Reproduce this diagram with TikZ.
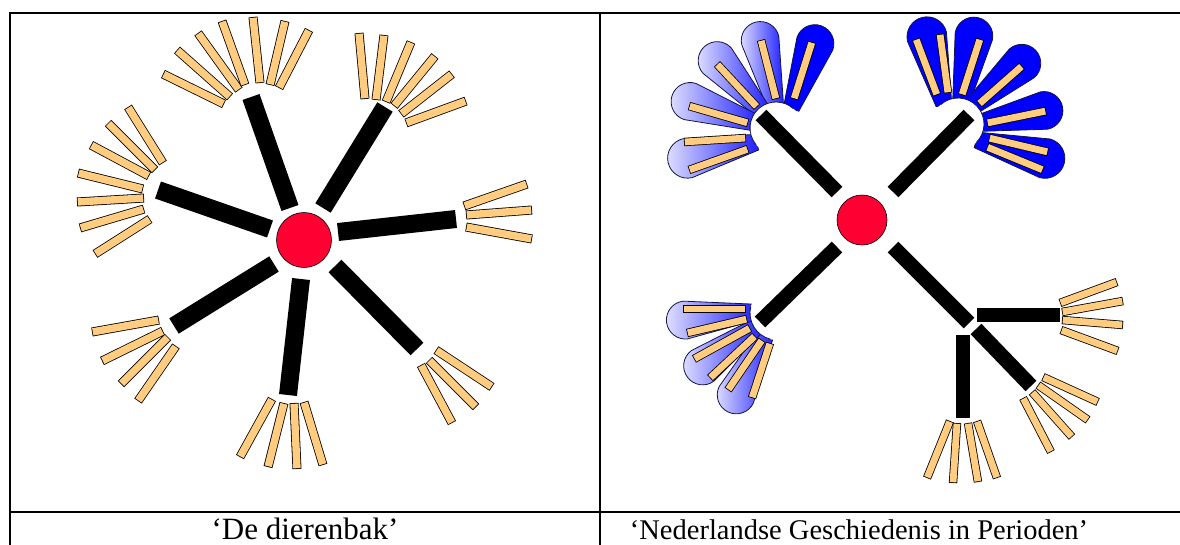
\documentclass[tikz,border=0pt]{standalone}
\usepackage{fontspec}
\setmainfont{Liberation Serif}
\usetikzlibrary{calc}
\definecolor{barorange}{RGB}{255,204,128}
\definecolor{dotred}{RGB}{255,0,51}
\definecolor{petalblue}{RGB}{0,0,255}
\definecolor{petalline}{RGB}{20,20,70}
\tikzset{
  frameline/.style={line width=2pt, black},
  spokeL/.style={line width=18pt, black},
  spokeR/.style={line width=15pt, black},
  hubdot/.style={circle, draw=black, line width=0.6pt, fill=dotred, inner sep=0pt},
  petal/.style={draw=petalline, line width=0.8pt},
  gradpetal/.style={petal, left color=blue!12, right color=blue!88},
  solidpetal/.style={petal, fill=petalblue},
  caption/.style={anchor=base, inner sep=0pt, text depth=0pt},
}
% orange bar with thin black outline: outer width, inner width, x1,y1,x2,y2
\newcommand\obar[6]{%
  \draw[line width=#1pt, black] (#3,#4) -- (#5,#6);
  \draw[line width=#2pt, barorange, shorten <=0.8pt, shorten >=0.8pt] (#3,#4) -- (#5,#6);}
\newcommand\lbar[4]{\obar{9}{7.4}{#1}{#2}{#3}{#4}}
\newcommand\rbar[4]{\obar{8.4}{6.8}{#1}{#2}{#3}{#4}}
% petal: style; x y (narrow end), angle, L (to round centre), R
\newcommand\petal[6][]{%
  \coordinate (pn) at ($(#2,#3)+(#4+180:8)$);
  \coordinate (pc) at ($(#2,#3)+(#4:#5)$);
  \path[#1] ($(pn)+(#4-90:8)$) -- ($(pc)+(#4-90:#6)$)
     arc[start angle=#4-90, delta angle=180, radius=#6]
     -- ($(pn)+(#4+90:8)$) -- cycle;}
\begin{document}
\begin{tikzpicture}[x=1pt, y=-1pt]
\useasboundingbox (0,0) rectangle (1180,544);
% ---------- frame ----------
\draw[frameline] (10,560) -- (10,13) -- (1190,13);
\draw[frameline] (10,512) -- (1190,512);
\draw[frameline] (600,13) -- (600,560);
\node[caption, font=\fontsize{31}{36}\selectfont] (capL) at (305,539) {‘De dierenbak’};
\node[caption, font=\fontsize{28.5}{34}\selectfont] (capR) at (859,539) {‘Nederlandse Geschiedenis in Perioden’};

% ================= LEFT PANEL =================
\node[hubdot, minimum size=55pt] (hubL) at (304,240) {};
\draw[spokeL] (290,208) -- (251,97);
\draw[spokeL] (323,208) -- (385,107);
\draw[spokeL] (338,232) -- (456,219);
\draw[spokeL] (270,229) -- (158,190);
\draw[spokeL] (274,264) -- (174,326);
\draw[spokeL] (301,279) -- (288,395);
\draw[spokeL] (335,266) -- (417,349);
% fan A (top)
\lbar{163}{74}{224}{104}
\lbar{177}{50}{230}{97}
\lbar{198}{33}{239}{90}
\lbar{222}{21}{245}{85}
\lbar{253}{17}{260}{83}
\lbar{285}{21}{270}{85}
\lbar{309}{30}{279}{88}
% fan B (top right)
\lbar{359}{33}{365}{99}
\lbar{384}{35}{376}{100}
\lbar{411}{42}{386}{102}
\lbar{435}{56}{394}{106}
\lbar{452}{74}{401}{114}
\lbar{466}{101}{406}{123}
% fan C (left)
\lbar{163}{163}{128}{107}
\lbar{155}{170}{108}{123}
\lbar{149}{176}{91}{145}
\lbar{143}{189}{78}{173}
\lbar{144}{198}{77}{202}
\lbar{144}{209}{80}{228}
\lbar{150}{219}{95}{254}
% fan D (right)
\lbar{464}{206}{527}{184}
\lbar{466}{215}{532}{210}
\lbar{466}{227}{532}{239}
% fan E (lower left)
\lbar{159}{320}{92}{332}
\lbar{163}{331}{102}{361}
\lbar{168}{337}{121}{384}
\lbar{176}{346}{138}{401}
% fan F (bottom)
\lbar{272}{399}{240}{457}
\lbar{284}{403}{268}{467}
\lbar{294}{403}{297}{469}
\lbar{304}{402}{323}{465}
% fan G (lower right)
\lbar{436}{350}{492}{387}
\lbar{429}{360}{476}{407}
\lbar{421}{365}{452}{423}

% ================= RIGHT PANEL =================
% top-left petal fan
\petal[solidpetal]{794}{101}{290}{61}{19}
\petal[gradpetal]{774}{100}{257}{61}{19}
\petal[gradpetal]{758}{106}{228}{61}{19}
\petal[gradpetal]{750}{121}{198}{63}{19}
\petal[gradpetal]{749}{144}{167}{63}{20}
\fill[white] (776,128) circle[radius=26];
\draw[petalline, line width=0.8pt] ($(776,128)+(140:26)$) arc[start angle=140, end angle=312, radius=26];
% top-right petal fan
\petal[solidpetal]{942}{97}{256}{62}{20}
\petal[solidpetal]{962}{97}{281}{62}{19}
\petal[solidpetal]{975}{104}{319}{62}{19}
\petal[solidpetal]{985}{122}{349}{60}{19}
\petal[solidpetal]{984}{142}{15}{63}{20}
\fill[white] (958,124) circle[radius=26];
\draw[petalline, line width=0.8pt] ($(958,124)+(228:26)$) arc[start angle=228, end angle=405, radius=26];
% bottom-left petal fan
\petal[gradpetal]{763}{340}{116}{61}{19}
\petal[gradpetal]{752}{330}{144}{61}{19}
\petal[gradpetal]{747}{313}{173.5}{62}{19}
\fill[white] (777,313) circle[radius=27];
\draw[petalline, line width=0.8pt] ($(777,313)+(104:27)$) arc[start angle=104, end angle=194, radius=27];

\node[hubdot, minimum size=50pt] (hubR) at (862,220) {};
\draw[spokeR] (837,192) -- (761,115);
\draw[spokeR] (893,192) -- (969,115);
\draw[spokeR] (837,247) -- (760,322);
\draw[spokeR] (893,247) -- (969,323);
\draw[line width=13.5pt] (977,315) -- (1060,315);
\draw[line width=14pt] (963,335) -- (963,418);
\draw[spokeR] (976,329) -- (1031,386);
% bars in top-left petals
\rbar{684}{142}{746}{138}
\rbar{689}{170}{748}{149}
\rbar{689}{106}{748}{123}
\rbar{717}{64}{757}{107}
\rbar{761}{40}{776}{99}
\rbar{812}{42}{794}{99}
% bars in top-right petals
\rbar{916}{39}{937}{95}
\rbar{940}{34}{948}{93}
\rbar{980}{39}{962}{95}
\rbar{1022}{66}{979}{104}
\rbar{1046}{111}{987}{123}
\rbar{1048}{152}{989}{138}
\rbar{1043}{170}{987}{147}
% bars in bottom-left petals
\rbar{683}{309}{746}{309}
\rbar{687}{333}{747}{319}
\rbar{694}{359}{750}{328}
\rbar{710}{378}{755}{336}
\rbar{728}{390}{762}{340}
\rbar{752}{398}{770}{343}
% fan at horizontal branch
\rbar{1060}{303}{1117}{282}
\rbar{1062}{312}{1123}{301}
\rbar{1062}{320}{1123}{325}
\rbar{1061}{330}{1118}{351}
% fan at diagonal branch
\rbar{1043}{377}{1098}{402}
\rbar{1038}{385}{1088}{420}
\rbar{1032}{392}{1072}{437}
\rbar{1023}{398}{1051}{452}
% fan at vertical branch
\rbar{950}{421}{927}{478}
\rbar{957}{423}{953}{483}
\rbar{968}{423}{978}{482}
\rbar{977}{421}{997}{478}
\end{tikzpicture}
\end{document}
